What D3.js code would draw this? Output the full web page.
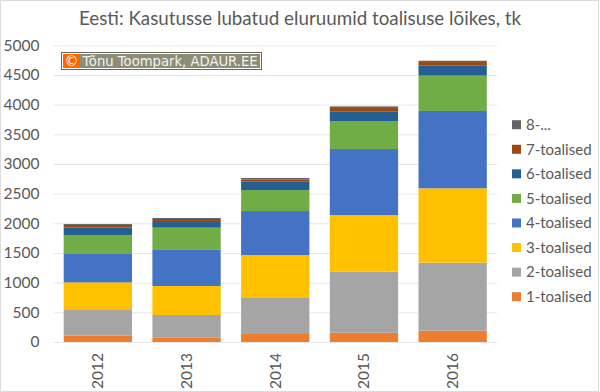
<!DOCTYPE html>
<html>
<head>
<meta charset="utf-8">
<script src="https://cdn.jsdelivr.net/npm/d3@7"></script>
<style>
  html, body { margin: 0; padding: 0; background: #fff; }
  svg { display: block; }
</style>
</head>
<body>
<div id="chart"></div>
<script>
const years = ["2012", "2013", "2014", "2015", "2016"];
const seriesNames = ["1-toalised", "2-toalised", "3-toalised", "4-toalised", "5-toalised", "6-toalised", "7-toalised", "8-..."];
const colors = ["#ed7d31", "#a5a5a5", "#ffc000", "#4472c4", "#70ad47", "#255e91", "#9e480e", "#636363"];

const rooms1 = [107, 79, 135, 157, 191];
const rooms2 = [432, 376, 618, 1028, 1146];
const rooms3 = [466, 489, 713, 955, 1253];
const rooms4 = [489, 618, 741, 1112, 1303];
const rooms5 = [309, 365, 354, 472, 596];
const rooms6 = [124, 95, 139, 156, 167];
const rooms7 = [45, 51, 41, 63, 62];
const rooms8 = [16, 17, 23, 27, 22];
const allSeries = [rooms1, rooms2, rooms3, rooms4, rooms5, rooms6, rooms7, rooms8];

const yTicks = [0, 500, 1000, 1500, 2000, 2500, 3000, 3500, 4000, 4500, 5000];

const width = 600, height = 392;
const textColor = "#595959";
const font = "Lato, 'Open Sans', sans-serif";

const svg = d3.select("#chart").append("svg")
  .attr("width", width)
  .attr("height", height)
  .style("font-family", font);

// thin frame round the picture
svg.append("rect")
  .attr("x", 0.5)
  .attr("y", 0.5)
  .attr("width", width - 2)
  .attr("height", height - 1)
  .attr("fill", "#fff")
  .attr("stroke", "#dcdcdc");

svg.append("text")
  .attr("x", 300)
  .attr("y", 25)
  .attr("text-anchor", "middle")
  .attr("fill", textColor)
  .style("font-size", "18.8px")
  .text("Eesti: Kasutusse lubatud eluruumid toalisuse lõikes, tk");

const x = d3.scaleBand()
  .domain(years)
  .range([53.5, 497])
  .paddingInner(0.23)
  .paddingOuter(0.115);

const y = d3.scaleLinear()
  .domain([0, 5000])
  .range([342, 45.3]);

// grid + y labels
const yAxis = svg.append("g")
  .attr("transform", "translate(53.5,0)")
  .call(d3.axisLeft(y).tickValues(yTicks).tickSize(0).tickPadding(14).tickFormat(d3.format("d")));
yAxis.select(".domain").remove();
yAxis.selectAll("text")
  .attr("fill", textColor)
  .style("font-family", font)
  .style("font-size", "15.5px");
yAxis.selectAll(".tick line")
  .attr("x2", 497 - 53.5)
  .attr("stroke", "#e7e7e7")
  .attr("stroke-width", 1);

// stacked bars
const rows = years.map((yr, i) => {
  const row = { year: yr };
  seriesNames.forEach((name, s) => { row[name] = allSeries[s][i]; });
  return row;
});

const stacked = d3.stack().keys(seriesNames)(rows);

svg.append("g")
  .selectAll("g")
  .data(stacked)
  .join("g")
  .attr("fill", (d, i) => colors[i])
  .selectAll("rect")
  .data(d => d)
  .join("rect")
  .attr("x", d => x(d.data.year))
  .attr("y", d => y(d[1]))
  .attr("width", x.bandwidth())
  .attr("height", d => y(d[0]) - y(d[1]));

// x labels
const xAxis = svg.append("g")
  .attr("transform", "translate(0,342)")
  .call(d3.axisBottom(x).tickSize(0));
xAxis.select(".domain").remove();
xAxis.selectAll("text")
  .attr("fill", textColor)
  .attr("transform", "rotate(-90)")
  .attr("x", -11)
  .attr("y", 0)
  .attr("dy", "0.35em")
  .attr("text-anchor", "end")
  .style("font-family", font)
  .style("font-size", "15.5px");

// legend, top entry is the last series
const legendY = d3.scalePoint()
  .domain(seriesNames.slice().reverse())
  .range([124.7, 296.7]);

const legend = svg.append("g")
  .selectAll("g")
  .data(seriesNames)
  .join("g")
  .attr("transform", d => `translate(512,${legendY(d)})`);

legend.append("rect")
  .attr("y", -4.5)
  .attr("width", 9)
  .attr("height", 9)
  .attr("fill", (d, i) => colors[i]);

legend.append("text")
  .attr("x", 14)
  .attr("dy", "0.35em")
  .attr("fill", textColor)
  .style("font-size", "15px")
  .text(d => d);

// copyright stamp
const stamp = svg.append("g");
stamp.append("rect")
  .attr("x", 61.5)
  .attr("y", 52.5)
  .attr("width", 200)
  .attr("height", 17)
  .attr("fill", "#fff")
  .attr("stroke", "#666659");
stamp.append("rect")
  .attr("x", 63)
  .attr("y", 54)
  .attr("width", 197)
  .attr("height", 14)
  .attr("fill", "#8c8c78");
stamp.append("rect")
  .attr("x", 63)
  .attr("y", 54)
  .attr("width", 17)
  .attr("height", 14)
  .attr("fill", "#ff6600");
stamp.append("text")
  .attr("x", 71.5)
  .attr("y", 65.5)
  .attr("text-anchor", "middle")
  .attr("fill", "#fff")
  .style("font-family", "'DejaVu Sans', sans-serif")
  .style("font-size", "14px")
  .text("©");
stamp.append("text")
  .attr("x", 82.5)
  .attr("y", 65.5)
  .attr("fill", "#f4f4ec")
  .style("font-family", "'DejaVu Sans', sans-serif")
  .style("font-size", "13.2px")
  .text("Tõnu Toompark, ADAUR.EE");
</script>
</body>
</html>
